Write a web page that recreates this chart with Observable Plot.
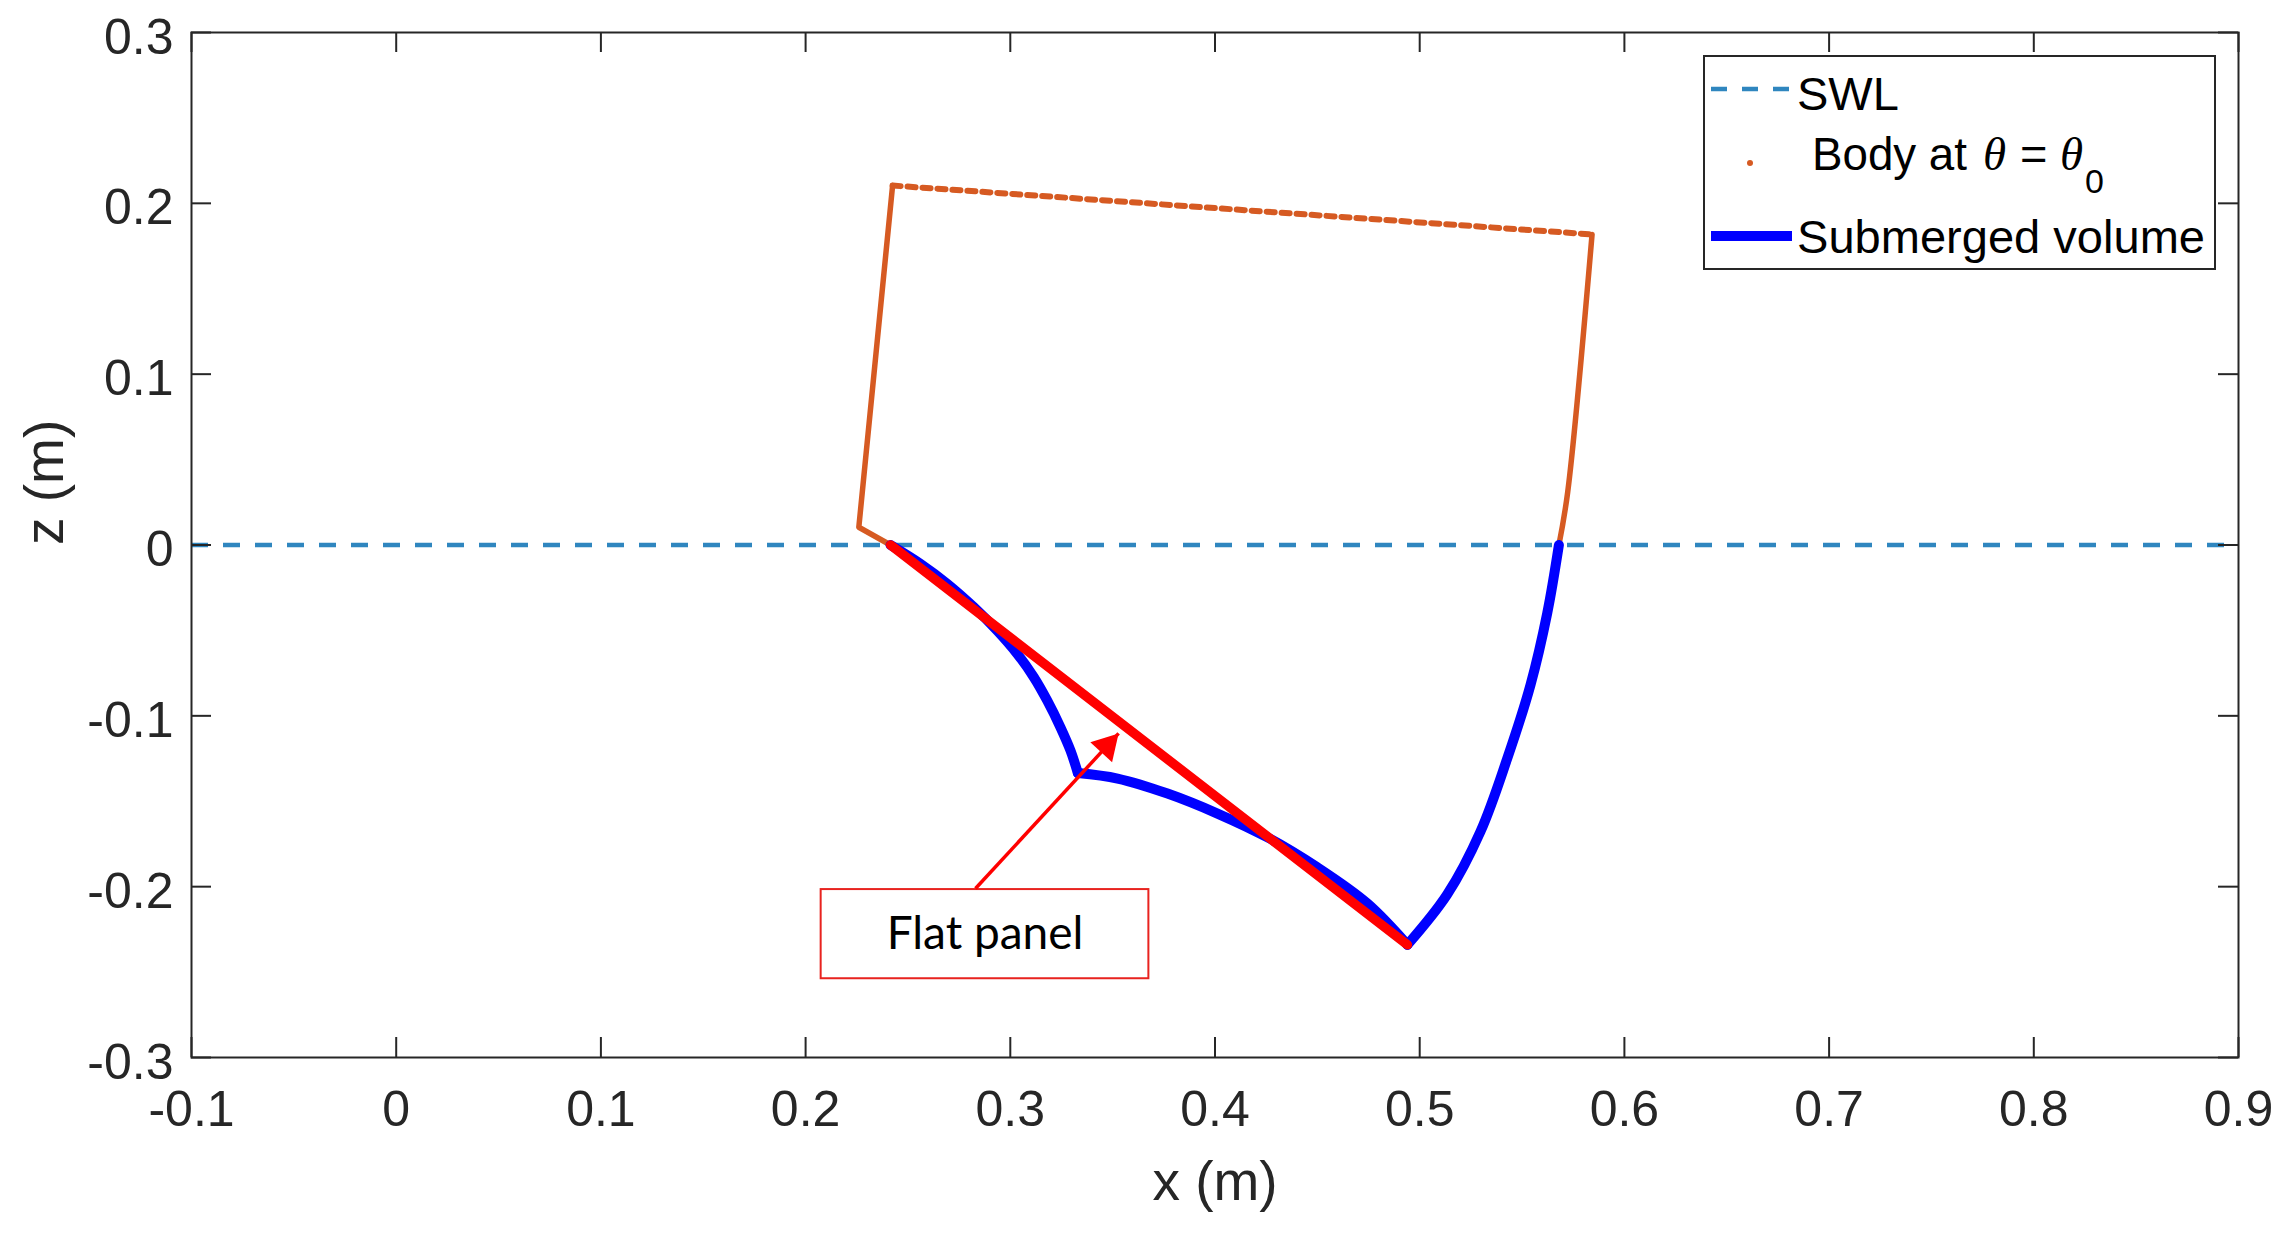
<!DOCTYPE html>
<html>
<head>
<meta charset="utf-8">
<script src="https://cdn.jsdelivr.net/npm/d3@7"></script>
<script src="https://cdn.jsdelivr.net/npm/@observablehq/plot@0.6"></script>
<style>
  html, body { margin: 0; padding: 0; background: #ffffff; overflow: hidden; }
  #chart svg { display: block; }
</style>
</head>
<body>
<div id="chart"></div>
<script>
// ---------- data ----------
const xTicks = [-0.1, 0, 0.1, 0.2, 0.3, 0.4, 0.5, 0.6, 0.7, 0.8, 0.9];
const xTickLabels = ["-0.1", "0", "0.1", "0.2", "0.3", "0.4", "0.5", "0.6", "0.7", "0.8", "0.9"];
const zTicks = [-0.3, -0.2, -0.1, 0, 0.1, 0.2, 0.3];
const zTickLabels = ["-0.3", "-0.2", "-0.1", "0", "0.1", "0.2", "0.3"];

// still water level
const swlZ = [0];

// body outline above water (left waterline -> kink -> top-left -> top-right -> right side -> right waterline)
const bodyX = [0.2415, 0.2260, 0.2425, 0.5842, 0.5723, 0.5680];
const bodyZ = [0.0000, 0.0104, 0.2104, 0.1818, 0.0310, 0.0000];

// submerged volume outline: upper-left arc, lower arc, right arc
const subUpperX = [0.2415, 0.2561, 0.2692, 0.2822, 0.2936, 0.3034, 0.3115, 0.3180, 0.3245, 0.3294, 0.3330];
const subUpperZ = [0.0000, -0.0110, -0.0227, -0.0364, -0.0501, -0.0637, -0.0774, -0.0910, -0.1067, -0.1203, -0.1335];
const subLowerX = [0.3330, 0.3524, 0.3768, 0.4012, 0.4257, 0.4501, 0.4745, 0.4940];
const subLowerZ = [-0.1335, -0.1367, -0.1455, -0.1572, -0.1712, -0.1888, -0.2099, -0.2340];
const subRightX = [0.4940, 0.5134, 0.5297, 0.5427, 0.5541, 0.5623, 0.5680];
const subRightZ = [-0.2340, -0.2046, -0.1677, -0.1252, -0.0820, -0.0399, 0.0000];

// flat panel
const panelX = [0.2415, 0.4940];
const panelZ = [0.0000, -0.2340];

// callout annotation
const calloutText = "Flat panel";
const calloutBoxX = [0.2076, 0.3677];
const calloutBoxZ = [-0.2539, -0.2017];
const arrowX = [0.2830, 0.3529];
const arrowZ = [-0.2011, -0.1103];

// legend labels
const legendLabels = ["SWL", "Body at", "Submerged volume"];

// ---------- styles ----------
const W = 2289, H = 1239;
const mL = 191, mR = 51, mT = 32, mB = 182;
const frameW = W - mL - mR, frameH = H - mT - mB;
const xDomain = [-0.1, 0.9], zDomain = [-0.3, 0.3];
const axisColor = "#262626";
const swlColor = "#2f86bf";
const bodyColor = "#d65a22";
const subColor = "#0000ff";
const panelColor = "#ff0000";
const tickLen = 20;

const idx = n => Array.from({length: n}, (_, i) => i);
const arcLine = (xs, zs) => Plot.line(idx(xs.length), {
  x: i => xs[i], y: i => zs[i], curve: "catmull-rom",
  stroke: subColor, strokeWidth: 10, strokeLinejoin: "round", strokeLinecap: "round"
});

// arrowhead orientation derived from the arrow's data direction and the scale layout
const pxPerX = frameW / (xDomain[1] - xDomain[0]);
const pxPerZ = frameH / (zDomain[1] - zDomain[0]);
const adx = (arrowX[1] - arrowX[0]) * pxPerX;
const ady = -(arrowZ[1] - arrowZ[0]) * pxPerZ;
const alen = Math.hypot(adx, ady);
const ux = adx / alen, uy = ady / alen;
const headR = 11;
const headBack = 2 * Math.sqrt(headR * headR * Math.PI / (3 * Math.sqrt(3)));
const headRotate = Math.atan2(ux, -uy) * 180 / Math.PI;

const plot = Plot.plot({
  width: W,
  height: H,
  marginLeft: mL,
  marginRight: mR,
  marginTop: mT,
  marginBottom: mB,
  style: {fontFamily: "'Liberation Sans', Arial, sans-serif", fontSize: "50px", color: axisColor, background: "#ffffff"},
  x: {domain: xDomain},
  y: {domain: zDomain},
  marks: [
    // SWL
    Plot.ruleY(swlZ, {y: d => d, stroke: swlColor, strokeWidth: 4.5, strokeDasharray: "17,15"}),
    // body outline
    Plot.line([0, 1, 2], {x: i => bodyX[i], y: i => bodyZ[i], stroke: bodyColor, strokeWidth: 5.5}),
    Plot.line([2, 3], {x: i => bodyX[i], y: i => bodyZ[i], stroke: bodyColor, strokeWidth: 6, strokeDasharray: "8,7"}),
    Plot.line([3, 4, 5], {x: i => bodyX[i], y: i => bodyZ[i], stroke: bodyColor, strokeWidth: 5.5, curve: "catmull-rom"}),
    // submerged volume
    arcLine(subUpperX, subUpperZ),
    arcLine(subLowerX, subLowerZ),
    arcLine(subRightX, subRightZ),
    // flat panel
    Plot.line(idx(panelX.length), {x: i => panelX[i], y: i => panelZ[i], stroke: panelColor, strokeWidth: 9.5}),
    // callout
    Plot.rect([0], {x1: calloutBoxX[0], x2: calloutBoxX[1], y1: calloutBoxZ[0], y2: calloutBoxZ[1], fill: "#ffffff", stroke: "#e8231f", strokeWidth: 2}),
    Plot.text([calloutText], {x: (calloutBoxX[0] + calloutBoxX[1]) / 2, y: (calloutBoxZ[0] + calloutBoxZ[1]) / 2, text: d => d, fontSize: 46, fontFamily: "Lato, 'Open Sans', sans-serif", fill: "#000000"}),
    Plot.link([0], {x1: arrowX[0], y1: arrowZ[0], x2: arrowX[1], y2: arrowZ[1], stroke: panelColor, strokeWidth: 3.5}),
    Plot.dot([0], {x: arrowX[1], y: arrowZ[1], symbol: "triangle", r: headR, fill: panelColor, stroke: "none",
                   rotate: headRotate, dx: -ux * headBack, dy: -uy * headBack}),
    // inward ticks on all four sides
    Plot.ruleX(xTicks, {x: d => d, insetTop: frameH - tickLen, stroke: axisColor, strokeWidth: 2}),
    Plot.ruleX(xTicks, {x: d => d, insetBottom: frameH - tickLen, stroke: axisColor, strokeWidth: 2}),
    Plot.ruleY(zTicks, {y: d => d, insetRight: frameW - tickLen, stroke: axisColor, strokeWidth: 2}),
    Plot.ruleY(zTicks, {y: d => d, insetLeft: frameW - tickLen, stroke: axisColor, strokeWidth: 2}),
    // tick labels
    Plot.axisX(xTicks, {anchor: "bottom", tickSize: 0, tickPadding: 33, tickFormat: d => xTickLabels[xTicks.indexOf(d)], fontSize: 50, fill: axisColor, label: null}),
    Plot.axisY(zTicks, {anchor: "left", tickSize: 0, tickPadding: 18, dy: 5, tickFormat: d => zTickLabels[zTicks.indexOf(d)], fontSize: 50, fill: axisColor, label: null}),
    // axis titles
    Plot.text(["x (m)"], {frameAnchor: "bottom", text: d => d, dy: 125, lineAnchor: "middle", fontSize: 55, fill: axisColor}),
    Plot.text(["z (m)"], {frameAnchor: "left", text: d => d, dx: -146, rotate: -90, lineAnchor: "middle", fontSize: 55, fill: axisColor}),
    Plot.frame({stroke: axisColor, strokeWidth: 2})
  ]
});

document.getElementById("chart").appendChild(plot);

// ---------- legend (inside the axes, top-right) ----------
const svg = d3.select(plot);
const lg = svg.append("g")
  .attr("font-family", "'Liberation Sans', Arial, sans-serif")
  .attr("text-anchor", "start")
  .attr("fill", "#000");
lg.append("rect").attr("x", 1704).attr("y", 56).attr("width", 511).attr("height", 213)
  .attr("fill", "#ffffff").attr("stroke", axisColor).attr("stroke-width", 2);
// SWL
lg.append("line").attr("x1", 1711).attr("x2", 1792).attr("y1", 89).attr("y2", 89)
  .attr("stroke", swlColor).attr("stroke-width", 4.5).attr("stroke-dasharray", "16,15");
lg.append("text").attr("x", 1797).attr("y", 110).attr("font-size", 47).text(legendLabels[0]);
// Body
lg.append("circle").attr("cx", 1750).attr("cy", 163).attr("r", 3).attr("fill", bodyColor);
lg.append("text").attr("x", 1812).attr("y", 170).attr("font-size", 47)
  .attr("textLength", 155).attr("lengthAdjust", "spacingAndGlyphs").text(legendLabels[1]);
lg.append("text").attr("x", 1983).attr("y", 170).attr("font-size", 47)
  .attr("font-family", "'Liberation Serif', 'DejaVu Serif', serif").attr("font-style", "italic").text("θ");
lg.append("text").attr("x", 2020).attr("y", 170).attr("font-size", 47).text("=");
lg.append("text").attr("x", 2060).attr("y", 170).attr("font-size", 47)
  .attr("font-family", "'Liberation Serif', 'DejaVu Serif', serif").attr("font-style", "italic").text("θ");
lg.append("text").attr("x", 2085).attr("y", 193).attr("font-size", 34).text("0");
// Submerged volume
lg.append("line").attr("x1", 1711).attr("x2", 1792).attr("y1", 236).attr("y2", 236)
  .attr("stroke", subColor).attr("stroke-width", 10);
lg.append("text").attr("x", 1797).attr("y", 253).attr("font-size", 47)
  .attr("textLength", 408).attr("lengthAdjust", "spacingAndGlyphs").text(legendLabels[2]);
</script>
</body>
</html>
